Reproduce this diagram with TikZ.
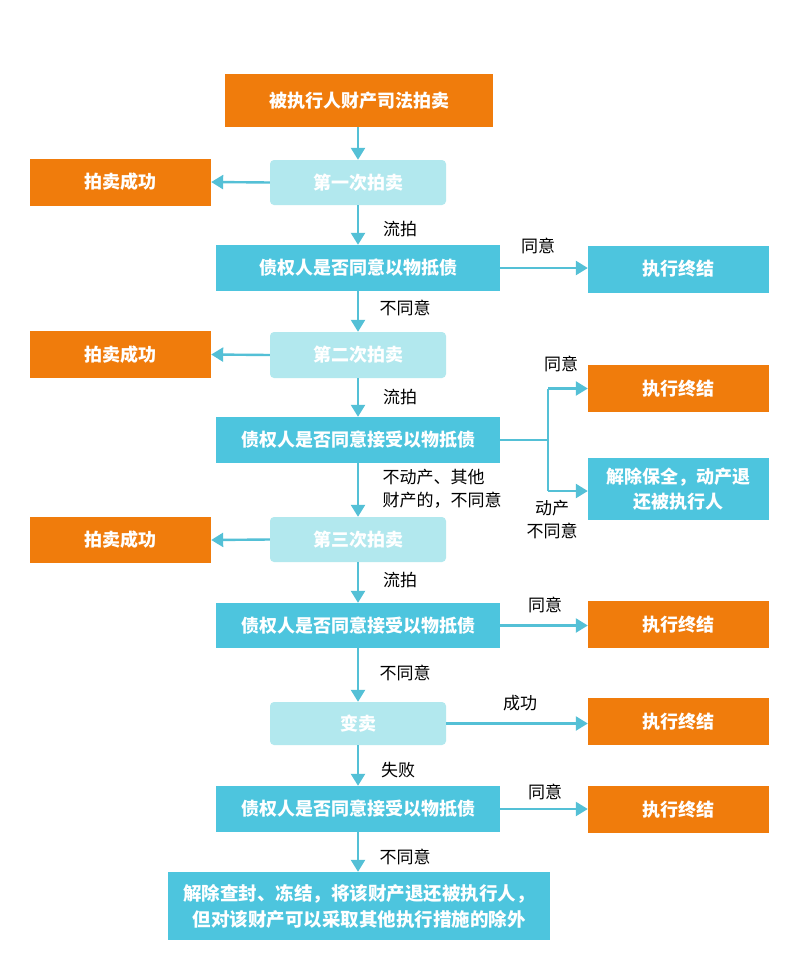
\documentclass[tikz,border=0pt]{standalone}
\usepackage{fontspec}
\setmainfont{Noto Sans CJK SC}
\usetikzlibrary{arrows.meta,positioning}
\definecolor{org}{RGB}{240,124,12}
\definecolor{cyn}{RGB}{77,197,222}
\definecolor{lcy}{RGB}{178,232,238}
\definecolor{arr}{RGB}{84,192,214}
\begin{document}
\begin{tikzpicture}[x=1pt,y=-1pt,
  base/.style={inner sep=0pt,align=center,text=white,font=\fontsize{18}{26}\selectfont\bfseries},
  obox/.style={base,fill=org,minimum width=181pt,minimum height=47pt},
  cbox/.style={base,fill=cyn,minimum width=284pt,minimum height=46pt},
  lbox/.style={base,fill=lcy,rounded corners=4pt,minimum width=176pt,minimum height=45pt},
  lab/.style={font=\fontsize{17}{23}\selectfont,text=black,inner sep=0pt,align=left},
  conn/.style={draw=arr,line width=2.4pt,-{Triangle[length=12pt,width=14pt]}},
  plain/.style={draw=arr,line width=2.4pt}]
\useasboundingbox (0,0) rectangle (800,966);
\fill[white] (0,0) rectangle (800,966);
% nodes
\node[obox,minimum width=268pt,minimum height=53pt] (top) at (359,100.5) {被执行人财产司法拍卖};
\node[obox] (s1) at (120.5,182) {拍卖成功};
\node[lbox] (a1) at (358,182.5) {第一次拍卖};
\node[cbox] (q1) at (358,268) {债权人是否同意以物抵债};
\node[obox,fill=cyn] (e1) at (678.5,269) {执行终结};
\node[obox] (s2) at (120.5,354.5) {拍卖成功};
\node[lbox,minimum height=46pt] (a2) at (358,355) {第二次拍卖};
\node[cbox] (q2) at (358,440) {债权人是否同意接受以物抵债};
\node[obox] (e2) at (678.5,388.5) {执行终结};
\node[obox,fill=cyn,minimum height=62pt,font=\fontsize{18}{25}\selectfont\bfseries] (r2) at (678.5,489) {解除保全，动产退\\还被执行人};
\node[obox,minimum height=46pt] (s3) at (120.5,540) {拍卖成功};
\node[lbox] (a3) at (358,539.5) {第三次拍卖};
\node[cbox,minimum height=45pt] (q3) at (358,625.5) {债权人是否同意接受以物抵债};
\node[obox] (e3) at (678.5,624.5) {执行终结};
\node[lbox,minimum height=43pt] (v) at (358,723.5) {变卖};
\node[obox] (e4) at (678.5,721.5) {执行终结};
\node[cbox] (q4) at (358,809) {债权人是否同意接受以物抵债};
\node[obox] (e5) at (678.5,809.5) {执行终结};
\node[cbox,minimum width=382pt,minimum height=68pt,font=\fontsize{18.5}{26}\selectfont\bfseries] (f) at (359,906) {解除查封、冻结，将该财产退还被执行人，\\但对该财产可以采取其他执行措施的除外};
% connectors
\draw[conn] (top.south -| a1) -- (a1.north);
\draw[conn] (a1.west) -- (s1.east);
\draw[conn] (a1.south) -- (q1.north);
\draw[conn] (q1.east) -- (e1.west |- q1.east);
\draw[conn] (q1.south) -- (a2.north);
\draw[conn] (a2.west) -- (s2.east);
\draw[conn] (a2.south) -- (q2.north);
\coordinate (br) at (548,440);
\draw[plain] (q2.east) -- (br);
\draw[plain] (548,388.5) -- (548,491);
\draw[conn] (548,388.5) -- (e2.west);
\draw[conn] (548,491) -- (r2.west |- 0,491);
\draw[conn] (q2.south) -- (a3.north);
\draw[conn] (a3.west) -- (s3.east);
\draw[conn] (a3.south) -- (q3.north);
\draw[conn] (q3.east) -- (e3.west |- q3.east);
\draw[conn] (q3.south) -- (v.north);
\draw[conn] (v.east) -- (e4.west |- v.east);
\draw[conn] (v.south) -- (q4.north);
\draw[conn] (q4.east) -- (e5.west |- q4.east);
\draw[conn] (q4.south) -- (f.north -| q4.south);
% labels
\node[lab] (l1) at (400,229) {流拍};
\node[lab] (l2) at (538,246) {同意};
\node[lab] (l3) at (405,308) {不同意};
\node[lab] (l4) at (400,397) {流拍};
\node[lab] (l5) at (561,364) {同意};
\node[lab,align=left] (l6) at (442,489) {不动产、其他\\财产的，不同意};
\node[lab,align=center] (l7) at (552,520) {动产\\不同意};
\node[lab] (l8) at (400,580) {流拍};
\node[lab] (l9) at (545,605) {同意};
\node[lab] (l10) at (405,673) {不同意};
\node[lab] (l11) at (520,703) {成功};
\node[lab] (l12) at (398,770) {失败};
\node[lab] (l13) at (545,792) {同意};
\node[lab] (l14) at (405,857) {不同意};
\end{tikzpicture}
\end{document}
